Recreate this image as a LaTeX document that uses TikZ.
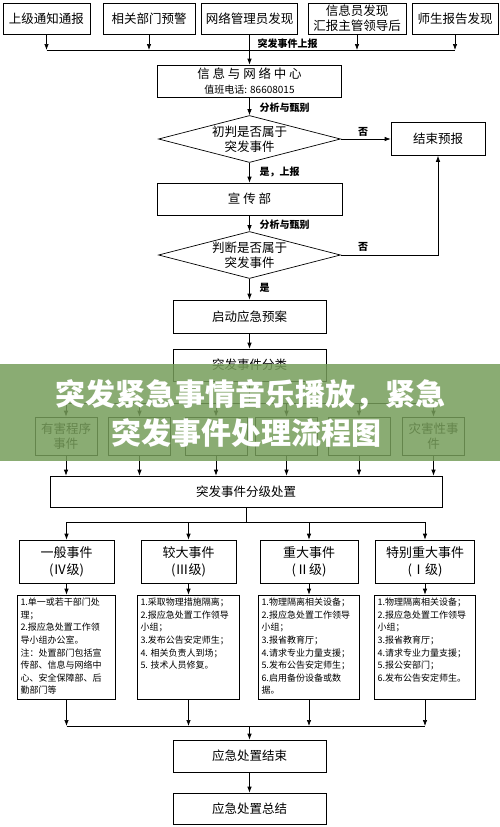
\documentclass[tikz,border=0pt]{standalone}
\usepackage{fontspec}
\setmainfont{Noto Sans CJK SC}
\usetikzlibrary{shapes.geometric,arrows.meta}
\definecolor{bannergreen}{RGB}{118,157,90}
\newcommand{\listtext}[2]{\parbox[c][98pt][t]{#1}{\raggedright #2}}
\begin{document}
\begin{tikzpicture}
[x=1pt,y=-1pt,
  boxdecorate/.style={shape=rectangle,draw,line width=0.7pt,inner sep=1pt,
    align=center,font=\fontsize{12.5}{15}\selectfont},
  choicedecorate/.style={shape=diamond,draw,line width=0.7pt,inner sep=0pt,
    aspect=3.8,minimum width=182pt,minimum height=47pt,align=center,
    font=\fontsize{12.5}{15}\selectfont},
  listdecorate/.style={shape=rectangle,draw,line width=0.7pt,inner sep=3pt,
    font=\fontsize{9}{12.6}\selectfont},
  tagdecorate/.style={font=\fontsize{10}{12}\selectfont\bfseries},
  titledecorate/.style={text=white,font=\fontsize{30}{32}\selectfont\bfseries},
  linedecorate/.style={-{Latex[length=6pt,width=4.5pt]},line width=0.7pt}]
\useasboundingbox (0,0) rectangle (500,827);
%% sources of the report
\foreach \nodename/\nodelabel/\x/\boxwidth in {
  t1/上级通知通报/46.5/87, t2/相关部门预警/149/92, t3/网络管理员发现/249.5/96,
  t4/{信息员发现\\汇报主管领导后}/357/98, t5/师生报告发现/455/86} {
  \node (\nodename) at (\x,18.5) [boxdecorate,minimum width=\boxwidth pt,
    minimum height=31pt] {\nodelabel};
}
\coordinate (mergetop) at (249.5,50);
\draw[line width=0.7pt] (t1 |- mergetop) -- (t5 |- mergetop);
\path
\foreach \startnode in {t1,t2,t4,t5} {
  (\startnode) edge[linedecorate] (\startnode |- mergetop)
};
\node[tagdecorate,anchor=west] at (254,44) {突发事件上报};
%% main column
\node (info) at (249.5,81) [boxdecorate,minimum width=184pt,minimum height=32pt]
  {信 息 与 网 络 中 心\\{\fontsize{10}{12}\selectfont 值班电话: 86608015}};
\node (judge1) at (249.5,139) [choicedecorate] {初判是否属于\\突发事件};
\node (stop) at (438,139) [boxdecorate,minimum width=94pt,minimum height=33pt]
  {结束预报};
\node (publicity) at (249.5,199) [boxdecorate,minimum width=185pt,
  minimum height=32pt] {宣\ 传\ 部};
\node (judge2) at (249.5,255) [choicedecorate] {判断是否属于\\突发事件};
\node (plan) at (249.5,316.5) [boxdecorate,minimum width=153pt,
  minimum height=33pt] {启动应急预案};
\node (classify) at (249.5,365) [boxdecorate,minimum width=153pt,
  minimum height=32pt] {突发事件分类};
\draw[linedecorate] (t3) -- (info);
\path (info) edge[linedecorate] (judge1)
  (judge1) edge[linedecorate] (stop)
  (judge1) edge[linedecorate] (publicity)
  (publicity) edge[linedecorate] (judge2)
  (judge2) edge[linedecorate] (plan)
  (plan) edge[linedecorate] (classify);
\draw[linedecorate] (judge2) -| (stop);
\foreach \tagtext/\x/\y in {分析与甄别/256/108, 是，上报/256/172,
  分析与甄别/256/225, 是/256/288} {
  \node[tagdecorate,anchor=west] at (\x,\y) {\tagtext};
}
\node[tagdecorate] at (363,132) {否};
\node[tagdecorate] at (363,247) {否};
%% kinds of events
\coordinate (splittop) at (249.5,403);
\foreach \nodename/\nodelabel/\x in {e1/{有害程序\\事件}/66, e2/{}/139.5,
  e3/{}/216, e4/{}/286.5, e5/{}/359, e6/{灾害性事\\件}/433.5} {
  \node (\nodename) at (\x,436) [boxdecorate,minimum width=62pt,
    minimum height=38pt] {\nodelabel};
}
\node (grade) at (246,491.5) [boxdecorate,minimum width=392pt,
  minimum height=31pt] {突发事件分级处置};
\draw[line width=0.7pt] (classify) -- (classify |- splittop)
  (e1 |- splittop) -- (e6 |- splittop);
\path
\foreach \startnode in {e1,e2,e3,e4,e5,e6} {
  (\startnode |- splittop) edge[linedecorate] (\startnode)
  (\startnode) edge[linedecorate] (\startnode |- grade.north)
};
%% levels and measures
\coordinate (splitmid) at (248,522);
\foreach \nodename/\nodelabel/\x/\boxwidth in {
  l1/{一般事件\\(Ⅳ级)}/66.5/95, l2/{较大事件\\(Ⅲ级)}/188.5/95,
  l3/{重大事件\\(Ⅱ级)}/309/98, l4/{特别重大事件\\(Ⅰ级)}/425/99} {
  \node (\nodename) at (\x,561.5) [boxdecorate,minimum width=\boxwidth pt,
    minimum height=43pt,font=\fontsize{13}{17}\selectfont] {\nodelabel};
}
\foreach \nodename/\nodelabel/\x/\boxwidth in {
  d1/{1.单一或若干部门处\\理；\\2.报应急处置工作领\\导小组办公室。\\注：处置部门包括宣\\传部、信息与网络中\\心、安全保障部、后\\勤部门等}/66.5/92,
  d2/{1.采取物理措施隔离；\\2.报应急处置工作领导\\小组；\\3.发布公告安定师生；\\4. 相关负责人到场；\\5. 技术人员修复。}/188.5/96,
  d3/{1.物理隔离相关设备；\\2.报应急处置工作领导\\小组；\\3.报省教育厅；\\4.请求专业力量支援；\\5.发布公告安定师生；\\6.启用备份设备或数\\据。}/309/95,
  d4/{1.物理隔离相关设备；\\2.报应急处置工作领导\\小组；\\3.报省教育厅；\\4.请求专业力量支援；\\5.报公安部门；\\6.发布公告安定师生。}/425/95} {
  \node (\nodename) at (\x,647) [listdecorate] {\listtext{\boxwidth pt}{\nodelabel}};
}
\draw[line width=0.7pt] (grade) -- (grade.south |- splitmid)
  (l1 |- splitmid) -- (l4 |- splitmid);
\coordinate (mergebot) at (249.5,726);
\node (finish) at (249.5,756) [boxdecorate,minimum width=153pt,
  minimum height=32pt] {应急处置结束};
\node (summary) at (249.5,808.5) [boxdecorate,minimum width=153pt,
  minimum height=31pt] {应急处置总结};
\draw[line width=0.7pt] (d1 |- mergebot) -- (d4 |- mergebot);
\path
\foreach \startnode/\endnode in {l1/d1, l2/d2, l3/d3, l4/d4} {
  (\startnode |- splitmid) edge[linedecorate] (\startnode)
  (\startnode) edge[linedecorate] (\endnode)
  (\endnode) edge[linedecorate] (\endnode |- mergebot)
};
\path (mergebot) edge[linedecorate] (finish)
  (finish) edge[linedecorate] (summary);
%% title banner over the chart
\fill[bannergreen,fill opacity=0.85] (0,364) rectangle (500,461);
\node (titleone) at (250,395) [titledecorate] {突发紧急事情音乐播放，紧急};
\node (titletwo) at (246,433) [titledecorate] {突发事件处理流程图};
\end{tikzpicture}
\end{document}
